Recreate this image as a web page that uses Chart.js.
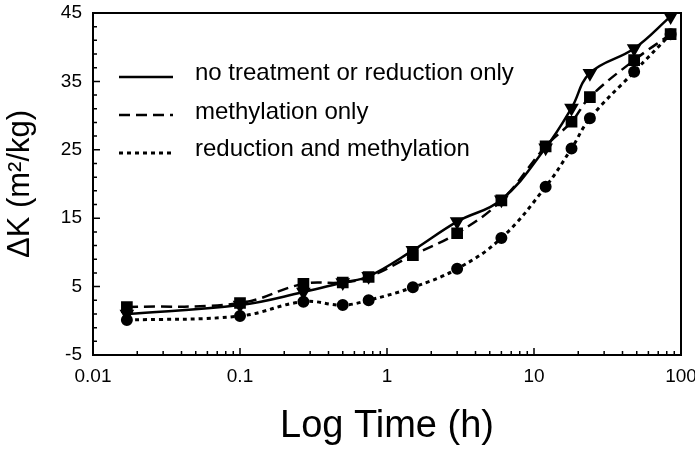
<!DOCTYPE html>
<html><head><meta charset="utf-8">
<script src="https://cdn.jsdelivr.net/npm/chart.js@4"></script>
<style>html,body{margin:0;padding:0;background:#fff}#wrap{width:695px;height:451px}</style>
</head><body><div id="wrap"><canvas id="c" width="695" height="451"></canvas></div>
<script>
const timeHours = [0.017, 0.1, 0.27, 0.5, 0.75, 1.5, 3, 6, 12, 18, 24, 48, 85];
const noTreatment = [1.0, 2.3, 4.2, 5.6, 6.5, 10.3, 14.5, 17.7, 25.3, 31.1, 36.2, 39.8, 44.5];
const methylationOnly = [2.0, 2.6, 5.4, 5.6, 6.4, 9.6, 12.8, 17.6, 25.5, 29.1, 32.7, 38.1, 41.9];
const reductionMethylation = [0.1, 0.7, 2.8, 2.3, 3.0, 4.9, 7.6, 12.1, 19.6, 25.2, 29.6, 36.4, 41.9];
const seriesNames = ['no treatment or reduction only', 'methylation only', 'reduction and methylation'];
const xTickValues = [0.01, 0.1, 1, 10, 100];
const xTickLabels = ['0.01', '0.1', '1', '10', '100'];
const xMinorValues = [0.02,0.03,0.04,0.05,0.06,0.07,0.08,0.09,0.2,0.3,0.4,0.5,0.6,0.7,0.8,0.9,2,3,4,5,6,7,8,9,20,30,40,50,60,70,80,90];
const yTickValues = [-5, 5, 15, 25, 35, 45];
const yTickLabels = ['-5', '5', '15', '25', '35', '45'];
const yMinorValues = [-3,-1,1,3,7,9,11,13,17,19,21,23,27,29,31,33,37,39,41,43];

const FONT = "'Liberation Sans', Arial, sans-serif";
const pts = (ys) => timeHours.map((x, i) => ({x: x, y: ys[i]}));

const axesPlugin = {
  id: 'axesPlugin',
  beforeDatasetsDraw(chart) {
    const {ctx, chartArea: a, scales: {x, y}} = chart;
    ctx.save();
    ctx.strokeStyle = '#000';
    ctx.lineWidth = 2;
    ctx.strokeRect(a.left, a.top, a.right - a.left, a.bottom - a.top);
    ctx.lineWidth = 1.5;
    ctx.beginPath();
    xTickValues.forEach(v => { const px = x.getPixelForValue(v); ctx.moveTo(px, a.bottom); ctx.lineTo(px, a.bottom - 7); });
    xMinorValues.forEach(v => { const px = x.getPixelForValue(v); ctx.moveTo(px, a.bottom); ctx.lineTo(px, a.bottom - 4); });
    yTickValues.forEach(v => { const py = y.getPixelForValue(v); ctx.moveTo(a.left, py); ctx.lineTo(a.left + 7, py); });
    yMinorValues.forEach(v => { const py = y.getPixelForValue(v); ctx.moveTo(a.left, py); ctx.lineTo(a.left + 4, py); });
    ctx.stroke();
    ctx.restore();
  },
  afterDraw(chart) {
    const {ctx} = chart;
    ctx.save();
    const lineRows = [77, 115, 153];
    const textRows = [80, 119, 156];
    chart.data.datasets.forEach((ds, i) => {
      ctx.strokeStyle = '#000';
      ctx.lineWidth = ds.borderWidth;
      ctx.setLineDash(ds.borderDash || []);
      ctx.beginPath();
      ctx.moveTo(119, lineRows[i]);
      ctx.lineTo(173, lineRows[i]);
      ctx.stroke();
      ctx.setLineDash([]);
      ctx.fillStyle = '#000';
      ctx.font = '24px ' + FONT;
      ctx.textBaseline = 'alphabetic';
      ctx.textAlign = 'left';
      ctx.fillText(ds.label, 195, textRows[i]);
    });
    ctx.restore();
  }
};

new Chart(document.getElementById('c'), {
  type: 'line',
  data: {
    datasets: [
      {label: seriesNames[0], data: pts(noTreatment), borderColor: '#000', backgroundColor: '#000', borderWidth: 2.5,
       pointStyle: 'triangle', rotation: 180, pointRadius: 6, tension: 0.4, clip: false},
      {label: seriesNames[1], data: pts(methylationOnly), borderColor: '#000', backgroundColor: '#000', borderWidth: 2.5,
       borderDash: [11, 6], pointStyle: 'rect', pointRadius: 6.5, tension: 0.4, clip: false},
      {label: seriesNames[2], data: pts(reductionMethylation), borderColor: '#000', backgroundColor: '#000', borderWidth: 3,
       borderDash: [4, 4], pointStyle: 'circle', pointRadius: 4.5, tension: 0.4, clip: false}
    ]
  },
  options: {
    responsive: false, animation: false, devicePixelRatio: 1,
    layout: {padding: {top: 13, right: 14, left: 0, bottom: 0}},
    plugins: {legend: {display: false}, tooltip: {enabled: false}},
    scales: {
      x: {
        type: 'logarithmic', position: 'bottom', min: 0.01, max: 100,
        afterBuildTicks: s => { s.ticks = xTickValues.map(v => ({value: v, major: true})); },
        afterFit: s => { s.height = 96; s.paddingLeft = 0; s.paddingRight = 0; },
        ticks: {autoSkip: false, maxRotation: 0, padding: 10, color: '#000', font: {family: FONT, size: 19},
                callback: (v, i) => xTickLabels[i]},
        grid: {display: false, drawTicks: false},
        border: {display: false},
        title: {display: true, text: 'Log Time (h)', color: '#000', font: {family: FONT, size: 38}, padding: {top: 0, bottom: 2}}
      },
      y: {
        type: 'linear', min: -5, max: 45,
        afterBuildTicks: s => { s.ticks = yTickValues.map(v => ({value: v})); },
        afterFit: s => { s.width = 93; s.paddingTop = 0; s.paddingBottom = 0; },
        ticks: {padding: 11, color: '#000', font: {family: FONT, size: 19}, callback: (v, i) => yTickLabels[i]},
        grid: {display: false, drawTicks: false},
        border: {display: false},
        title: {display: true, text: 'ΔK (m²/kg)', color: '#000', font: {family: FONT, size: 31}, padding: {top: 2, bottom: 0}}
      }
    }
  },
  plugins: [axesPlugin]
});
</script></body></html>
